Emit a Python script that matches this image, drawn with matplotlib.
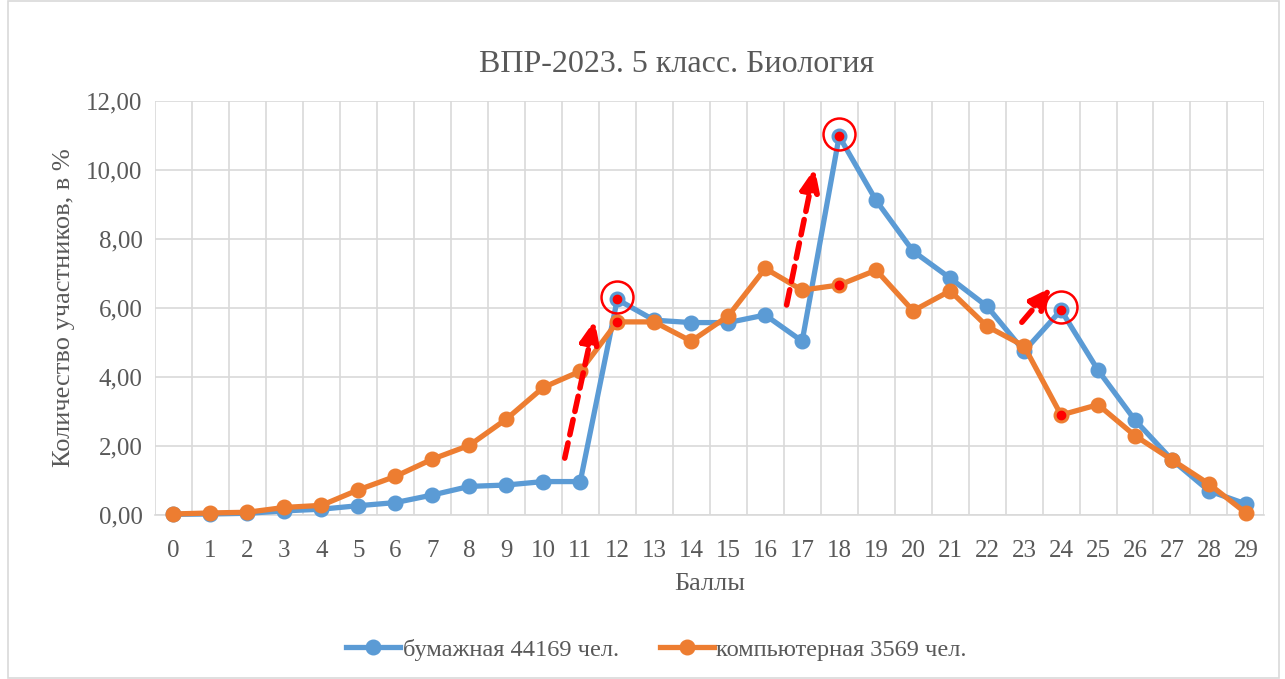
import matplotlib.pyplot as plt
from matplotlib.patches import Rectangle

plt.rcParams['font.family'] = ['Liberation Serif', 'DejaVu Serif']

# баллы
scores = list(range(0, 30))

# бумажная форма, % участников
paper = [0.02, 0.03, 0.05, 0.12, 0.17, 0.27, 0.36, 0.58, 0.83, 0.87,
         0.97, 0.97, 6.25, 5.65, 5.58, 5.58, 5.80, 5.04, 10.98, 9.12,
         7.65, 6.87, 6.05, 4.75, 5.94, 4.20, 2.75, 1.60, 0.70, 0.32]

# компьютерная форма, % участников
comp = [0.03, 0.06, 0.08, 0.22, 0.28, 0.73, 1.12, 1.62, 2.02, 2.78,
        3.70, 4.17, 5.60, 5.60, 5.04, 5.77, 7.15, 6.52, 6.67, 7.10,
        5.92, 6.50, 5.47, 4.90, 2.90, 3.20, 2.30, 1.60, 0.90, 0.06]

# выделенные баллы
marked = [12, 18, 24]

# стрелки (начало -> конец)
arrow_start = [(10.58, 1.65), (16.58, 6.09), (22.94, 5.59)]
arrow_end = [(11.39, 5.65), (17.34, 10.06), (23.75, 6.61)]

blue = '#5B9BD5'
orange = '#ED7D31'
gray = '#595959'

fig = plt.figure(figsize=(12.85, 6.79), dpi=100)
ax = fig.add_axes([0.1206, 0.2415, 0.8634, 0.6095])

ax.plot(scores, paper, '-o', color=blue, lw=3.8, ms=10.5, zorder=3, clip_on=False,
        label='бумажная 44169 чел.')
ax.plot(scores, comp, '-o', color=orange, lw=3.8, ms=10.5, zorder=4, clip_on=False,
        label='компьютерная 3569 чел.')

# красные точки и кружки
for s in marked:
    ax.plot(s, paper[s], 'o', color='red', ms=6, zorder=6)
    ax.plot(s, comp[s], 'o', color='red', ms=6, zorder=6)
    ax.plot(s, paper[s] + 0.08, 'o', mfc='none', mec='red', mew=1.8, ms=23, zorder=7)

for (x0, y0), (x1, y1) in zip(arrow_start, arrow_end):
    ax.annotate('', xy=(x1, y1), xytext=(x0, y0),
                arrowprops=dict(arrowstyle='-|>,head_length=1.3,head_width=0.55',
                                color='red', lw=4, linestyle=(0, (2.8, 1.5)),
                                shrinkA=0, shrinkB=0),
                zorder=8)

ax.set_xlim(-0.5, 29.5)
ax.set_ylim(0, 12)
ax.set_xticks(scores)
ax.set_xticklabels([str(s) for s in scores])
ax.set_yticks([0, 2, 4, 6, 8, 10, 12])
ax.set_yticklabels(['0,00', '2,00', '4,00', '6,00', '8,00', '10,00', '12,00'])
ax.set_xticks([s + 0.5 for s in range(-1, 30)], minor=True)

ax.grid(True, which='major', axis='y', color='#D9D9D9', lw=1.2)
ax.grid(True, which='minor', axis='x', color='#D9D9D9', lw=1.2)
ax.set_axisbelow(True)
ax.tick_params(which='both', length=0, labelsize=18, colors=gray)
ax.tick_params(axis='x', pad=18)
ax.tick_params(axis='y', pad=9)

for side in ['top', 'right', 'left']:
    ax.spines[side].set_visible(False)
ax.spines['bottom'].set_color('#D9D9D9')
ax.spines['bottom'].set_linewidth(1.2)

ax.set_title('ВПР-2023. 5 класс. Биология', fontsize=23, color=gray, pad=21, x=0.47)
ax.set_xlabel('Баллы', fontsize=19, color=gray, labelpad=8)
ax.set_ylabel('Количество участников, в %', fontsize=19, color=gray, labelpad=8)

leg = fig.legend(loc='center', bbox_to_anchor=(0.511, 0.043), ncol=2, frameon=False,
                 fontsize=17.6, handlelength=2.2, handletextpad=0.1, columnspacing=1.7)
for t in leg.get_texts():
    t.set_color(gray)

fig.patches.append(Rectangle((8 / 1285, 0.002), 1271 / 1285, 0.996, transform=fig.transFigure,
                             fill=False, edgecolor='#D9D9D9', lw=1.2))

fig.savefig('out.png', dpi=100)
